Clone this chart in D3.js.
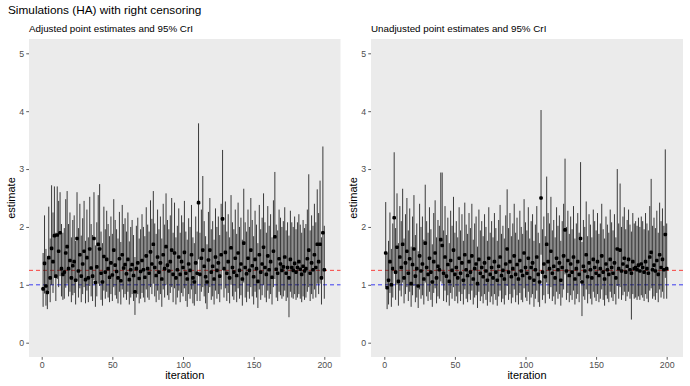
<!DOCTYPE html>
<html>
<head>
<meta charset="utf-8">
<script src="https://cdn.jsdelivr.net/npm/d3@7"></script>
<style>
  body { margin: 0; background: #fff; }
  text { font-family: "Liberation Sans", Arial, sans-serif; }
</style>
</head>
<body>
<svg id="chart" width="690" height="386"></svg>
<script>
// point estimates and 95% CrI, iterations 1..200
var adjEst = [
  0.93,1.37,0.98,0.87,1.47,1.12,1.63,1.40,1.85,1.15, 1.86,1.58,1.90,1.28,1.18,1.22,1.55,1.66,1.28,1.42,
  1.12,1.33,1.40,1.08,1.80,1.24,1.52,1.15,1.36,1.58, 1.09,1.47,1.12,1.62,1.29,1.15,1.80,1.04,1.31,1.70,
  1.62,1.20,1.05,1.49,1.22,1.44,1.28,1.13,1.38,1.17, 1.60,1.34,1.23,1.12,1.45,1.07,1.52,1.29,1.35,1.19,
  1.44,1.09,1.26,1.35,1.16,0.88,1.28,1.38,1.11,1.23, 1.42,1.26,1.13,1.50,1.28,1.20,1.57,1.36,1.70,1.30,
  1.16,1.48,1.22,1.38,1.10,1.52,1.28,1.66,1.34,1.24, 1.40,1.60,1.18,1.55,1.12,1.26,1.48,1.18,1.40,1.30,
  1.56,1.20,1.10,1.36,1.25,1.52,1.12,1.05,1.38,1.20, 2.42,1.18,1.46,1.60,1.32,1.14,1.05,1.43,1.60,1.22,
  1.32,1.10,1.48,1.25,1.38,1.15,1.52,2.14,1.28,1.56, 1.20,1.40,1.12,1.64,1.30,1.22,1.46,1.16,1.55,1.25,
  1.36,1.10,1.72,1.30,1.19,1.46,1.25,1.60,1.33,1.14, 1.44,1.28,1.06,1.52,1.22,1.36,1.65,1.30,1.18,1.50,
  1.26,1.40,1.13,1.58,1.83,1.27,1.20,1.45,1.36,1.25, 1.31,1.48,1.20,1.30,1.12,1.44,1.30,1.25,1.37,1.22,
  1.30,1.40,1.27,1.18,1.32,1.24,1.28,1.45,1.60,1.20, 1.38,1.26,1.52,1.30,1.70,1.40,1.70,1.12,1.90,1.26
];
var adjLo = [
  0.62,0.85,0.64,0.58,0.90,0.70,1.00,0.86,1.12,0.72, 1.10,0.96,1.15,0.80,0.74,0.76,0.95,1.02,0.80,0.88,
  0.70,0.82,0.86,0.66,1.06,0.78,0.94,0.70,0.84,0.96, 0.68,0.90,0.70,0.98,0.80,0.72,1.08,0.62,0.80,1.02,
  0.98,0.74,0.64,0.90,0.76,0.88,0.78,0.70,0.84,0.72, 0.96,0.82,0.76,0.68,0.88,0.66,0.92,0.78,0.84,0.74,
  0.88,0.66,0.78,0.84,0.72,0.48,0.78,0.84,0.68,0.76, 0.86,0.78,0.70,0.92,0.78,0.74,0.96,0.84,1.02,0.80,
  0.70,0.90,0.74,0.84,0.62,0.92,0.78,1.00,0.82,0.74, 0.86,0.96,0.70,0.94,0.66,0.78,0.90,0.70,0.86,0.80,
  0.94,0.72,0.62,0.84,0.76,0.92,0.68,0.64,0.84,0.72, 1.44,0.72,0.88,0.96,0.80,0.68,0.58,0.86,0.96,0.74,
  0.80,0.66,0.90,0.76,0.84,0.70,0.92,1.30,0.78,0.94, 0.72,0.86,0.68,1.00,0.80,0.74,0.88,0.70,0.94,0.76,
  0.82,0.64,1.04,0.78,0.70,0.88,0.76,0.96,0.80,0.66, 0.88,0.78,0.60,0.92,0.74,0.82,1.00,0.78,0.70,0.90,
  0.76,0.84,0.66,0.96,1.10,0.78,0.72,0.88,0.82,0.76, 0.80,0.90,0.72,0.78,0.44,0.88,0.78,0.76,0.84,0.74,
  0.78,0.84,0.76,0.70,0.80,0.74,0.78,0.88,0.96,0.72, 0.84,0.76,0.92,0.78,1.02,0.84,1.02,0.66,1.14,0.76
];
var adjHi = [
  1.55,2.20,1.62,1.45,2.35,1.80,2.72,2.25,2.70,1.90, 2.70,2.45,2.60,2.05,1.90,1.98,2.48,2.62,2.05,2.25,
  1.82,2.12,2.20,1.76,2.60,1.98,2.40,1.85,2.15,2.45, 1.76,2.30,1.82,2.52,2.05,1.86,2.60,1.68,2.08,2.55,
  2.74,1.92,1.72,2.35,1.96,2.28,2.05,1.84,2.18,1.88, 2.48,2.12,1.96,1.80,2.26,1.74,2.38,2.05,2.15,1.92,
  2.25,1.75,2.00,2.12,1.86,1.48,2.02,2.16,1.80,1.96, 2.22,2.00,1.84,2.34,2.04,1.92,2.46,2.14,2.62,2.06,
  1.88,2.30,1.96,2.18,1.80,2.40,2.04,2.58,2.12,1.96, 2.20,2.50,1.90,2.42,1.82,2.02,2.32,1.90,2.20,2.08,
  2.45,1.92,1.78,2.15,2.00,2.38,1.82,1.72,2.18,1.92, 3.79,1.90,2.30,2.88,2.10,1.84,1.70,2.26,2.50,1.96,
  2.10,1.78,2.32,2.00,2.18,1.86,2.40,3.33,2.04,2.44, 1.92,2.22,1.82,2.55,2.08,1.96,2.30,1.88,2.42,2.00,
  2.16,1.78,2.66,2.08,1.92,2.30,2.00,2.50,2.12,1.84, 2.28,2.04,1.72,2.38,1.96,2.16,2.58,2.08,1.90,2.36,
  2.02,2.22,1.82,2.46,2.95,2.04,1.94,2.30,2.16,2.00, 2.10,2.34,1.94,2.08,1.85,2.28,2.08,2.00,2.18,1.96,
  2.08,2.22,2.04,1.90,2.12,1.98,2.05,2.30,2.91,1.94, 2.20,2.02,2.40,2.08,2.65,2.24,2.80,1.82,3.39,2.02
];

var unadjEst = [
  1.55,0.95,1.08,1.40,1.00,1.28,2.16,1.22,1.65,1.06, 1.48,1.30,1.70,1.12,1.38,1.58,1.20,1.45,1.02,1.35,
  1.62,1.15,1.28,0.98,1.50,1.24,1.36,1.10,1.72,1.30, 1.18,1.46,1.22,1.05,1.40,1.55,1.12,1.32,1.26,1.78,
  1.68,1.20,1.48,1.15,1.35,1.06,1.42,1.25,1.60,1.18, 1.30,1.12,1.46,1.20,1.38,1.08,1.52,1.26,1.16,1.40,
  1.22,1.50,1.10,1.28,1.36,1.02,1.44,1.20,1.30,1.14, 1.38,1.24,1.08,1.46,1.18,1.30,1.12,1.40,1.22,1.08,
  1.32,1.48,1.16,1.25,1.10,1.36,1.62,1.22,1.40,1.14, 1.28,1.50,1.18,1.35,1.10,1.42,1.24,1.16,1.55,1.30,
  1.20,1.46,1.12,1.30,1.38,1.08,1.26,1.48,1.18,1.05, 2.50,1.22,1.36,1.14,1.70,1.40,1.28,1.58,1.20,1.32,
  1.12,1.46,1.26,1.38,1.08,1.30,1.50,1.95,1.24,1.42, 1.16,1.36,1.22,1.48,1.10,1.28,1.40,1.18,1.80,1.05,
  1.32,1.24,1.52,1.14,1.38,1.26,1.12,1.44,1.30,1.20, 1.40,1.16,1.28,1.50,1.22,1.10,1.36,1.26,1.18,1.44,
  1.30,1.20,1.38,1.12,1.62,1.28,1.60,1.24,1.36,1.46, 1.22,1.32,1.44,1.26,1.20,1.40,1.28,1.30,1.26,1.34,
  1.24,1.36,1.30,1.22,1.40,1.28,1.20,1.48,1.56,1.26, 1.34,1.24,1.42,1.18,1.52,1.30,1.44,1.26,1.87,1.28
];
var unadjLo = [
  0.96,0.58,0.66,0.86,0.62,0.78,1.30,0.74,1.00,0.64, 0.90,0.80,1.04,0.68,0.84,0.96,0.72,0.88,0.62,0.82,
  0.98,0.70,0.78,0.60,0.92,0.76,0.82,0.66,1.04,0.80, 0.72,0.88,0.74,0.62,0.86,0.94,0.68,0.80,0.76,1.06,
  1.02,0.72,0.90,0.70,0.82,0.64,0.86,0.76,0.96,0.72, 0.80,0.68,0.88,0.72,0.84,0.66,0.92,0.76,0.70,0.84,
  0.74,0.90,0.66,0.78,0.82,0.60,0.88,0.72,0.80,0.68, 0.84,0.74,0.64,0.88,0.70,0.80,0.66,0.84,0.74,0.64,
  0.80,0.90,0.70,0.76,0.66,0.82,0.98,0.74,0.84,0.68, 0.78,0.92,0.70,0.82,0.66,0.86,0.74,0.70,0.94,0.78,
  0.72,0.88,0.66,0.78,0.84,0.62,0.76,0.90,0.70,0.62, 1.52,0.74,0.82,0.68,1.04,0.84,0.76,0.96,0.72,0.80,
  0.66,0.88,0.76,0.84,0.64,0.78,0.92,1.18,0.74,0.86, 0.70,0.82,0.74,0.90,0.66,0.76,0.84,0.70,1.08,0.46,
  0.80,0.74,0.92,0.68,0.84,0.76,0.66,0.88,0.78,0.72, 0.84,0.70,0.76,0.92,0.74,0.64,0.82,0.76,0.70,0.88,
  0.78,0.72,0.84,0.66,0.98,0.76,0.96,0.74,0.82,0.88, 0.72,0.80,0.88,0.76,0.40,0.84,0.76,0.78,0.74,0.80,
  0.74,0.82,0.78,0.72,0.84,0.76,0.70,0.90,0.94,0.76, 0.80,0.74,0.86,0.70,0.92,0.78,0.88,0.76,1.12,0.76
];
var unadjHi = [
  2.43,1.55,1.76,2.25,1.62,2.06,3.29,1.98,2.58,1.72, 2.36,2.10,2.66,1.80,2.22,2.50,1.94,2.32,1.66,2.18,
  2.55,1.86,2.06,1.58,2.40,2.00,2.18,1.78,2.73,2.10, 1.90,2.34,1.96,1.70,2.24,2.46,1.82,2.12,2.02,2.94,
  2.94,1.94,2.36,1.86,2.16,1.72,2.28,2.02,2.52,1.90, 2.10,1.82,2.34,1.94,2.22,1.76,2.42,2.04,1.88,2.24,
  1.98,2.40,1.78,2.06,2.18,1.66,2.30,1.94,2.10,1.84, 2.22,2.00,1.76,2.34,1.90,2.10,1.82,2.24,1.98,1.76,
  2.12,2.38,1.88,2.02,1.80,2.20,2.65,1.98,2.24,1.84, 2.06,2.40,1.90,2.16,1.78,2.28,2.00,1.88,2.48,2.08,
  1.94,2.34,1.80,2.10,2.22,1.76,2.04,2.36,1.90,1.72, 4.02,1.96,2.18,1.84,2.87,2.24,2.06,2.52,1.94,2.12,
  1.82,2.34,2.02,2.20,1.76,2.10,2.40,3.18,2.00,2.28, 1.88,2.18,1.96,2.36,1.80,2.06,2.24,1.90,3.12,1.74,
  2.12,2.00,2.44,1.84,2.22,2.04,1.82,2.30,2.10,1.94, 2.24,1.88,2.06,2.40,1.96,1.80,2.18,2.04,1.90,2.30,
  2.08,1.94,2.22,1.82,3.00,2.06,2.75,2.00,2.18,2.34, 1.96,2.12,2.30,2.04,1.92,2.24,2.06,2.10,2.02,2.16,
  2.00,2.18,2.10,1.96,2.24,2.06,1.94,2.36,2.83,2.02, 2.16,1.98,2.28,1.90,2.42,2.10,2.32,2.02,3.34,2.06
];

var xTicks = [0, 50, 100, 150, 200];
var yTicks = [0, 1, 2, 3, 4, 5];
var trueValue = 1.25;   // red dashed
var nullValue = 1;      // blue dashed

var svg = d3.select("#chart");

svg.append("text")
  .attr("x", 8).attr("y", 14)
  .attr("font-size", 11.8).attr("fill", "#000")
  .text("Simulations (HA) with right censoring");

/**
 * Draw one panel of point estimates with their intervals.
 */
function panel(args) {
  var g = svg.append("g");
  var x = d3.scaleLinear().domain([0, 200]).range([args.x0, args.x200]);
  var y = d3.scaleLinear().domain([0, 5]).range([342.7, 53.3]);

  var rows = args.est.map(function (d, i) {
    return { it: i + 1, est: d, lo: args.lo[i], hi: args.hi[i] };
  });

  g.append("text")
    .attr("x", args.left).attr("y", 31.5)
    .attr("font-size", 9.8).attr("fill", "#000")
    .text(args.title);

  g.append("rect")
    .attr("x", args.left).attr("y", 39)
    .attr("width", args.right - args.left).attr("height", 318)
    .attr("fill", "#ebebeb");

  // reference lines
  [[trueValue, "#f8423e"], [nullValue, "#3b3bf0"]].forEach(function (r) {
    g.append("line")
      .attr("x1", args.left).attr("x2", args.right)
      .attr("y1", y(r[0])).attr("y2", y(r[0]))
      .attr("stroke", r[1]).attr("stroke-width", 1)
      .attr("stroke-dasharray", "4,3");
  });

  g.selectAll(".bar").data(rows).enter().append("line")
    .attr("x1", function (d) { return x(d.it); })
    .attr("x2", function (d) { return x(d.it); })
    .attr("y1", function (d) { return y(d.lo); })
    .attr("y2", function (d) { return y(d.hi); })
    .attr("stroke", "#1a1a1a").attr("stroke-width", 0.85);

  g.selectAll(".pt").data(rows).enter().append("rect")
    .attr("x", function (d) { return x(d.it) - 1.8; })
    .attr("y", function (d) { return y(d.est) - 1.8; })
    .attr("width", 3.6).attr("height", 3.6)
    .attr("rx", 1.2).attr("fill", "#000");

  var ax = g.append("g")
    .attr("transform", "translate(0,357)")
    .call(d3.axisBottom(x).tickValues(xTicks).tickSize(2.75).tickPadding(2)
      .tickFormat(d3.format("d")));
  var ay = g.append("g")
    .attr("transform", "translate(" + args.left + ",0)")
    .call(d3.axisLeft(y).tickValues(yTicks).tickSize(2.75).tickPadding(2)
      .tickFormat(d3.format("d")));
  [ax, ay].forEach(function (a) {
    a.select(".domain").remove();
    a.selectAll(".tick line").attr("stroke", "#333").attr("stroke-width", 0.8);
    a.selectAll(".tick text").attr("fill", "#4d4d4d")
      .attr("font-size", 8.8).attr("font-family", "Liberation Sans, Arial, sans-serif");
  });

  g.append("text")
    .attr("x", (args.left + args.right) / 2).attr("y", 379)
    .attr("text-anchor", "middle").attr("font-size", 11)
    .text("iteration");
  g.append("text")
    .attr("transform", "translate(" + (args.left - 14) + ",198) rotate(-90)")
    .attr("text-anchor", "middle").attr("font-size", 11)
    .text("estimate");
}

panel({ left: 29, right: 340.5, x0: 41.7, x200: 324.3,
        est: adjEst, lo: adjLo, hi: adjHi,
        title: "Adjusted point estimates and 95% CrI" });
panel({ left: 371, right: 683, x0: 384.3, x200: 666.7,
        est: unadjEst, lo: unadjLo, hi: unadjHi,
        title: "Unadjusted point estimates and 95% CrI" });
</script>
</body>
</html>
